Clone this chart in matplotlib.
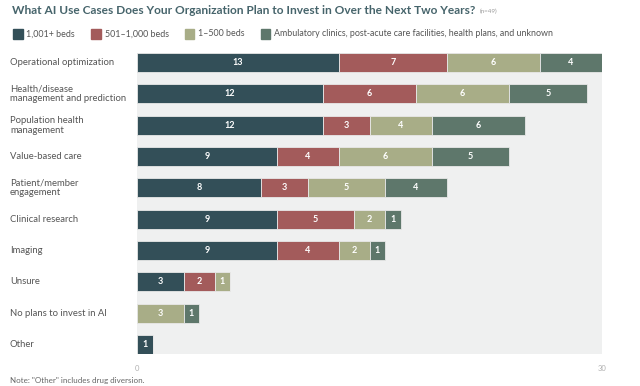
import numpy as np
import matplotlib
matplotlib.use("Agg")
import matplotlib.pyplot as plt
from matplotlib.patches import Rectangle

plt.rcParams['font.family'] = ['Lato', 'DejaVu Sans']

# data
categories = ['Operational optimization',
              'Health/disease\nmanagement and prediction',
              'Population health\nmanagement',
              'Value-based care',
              'Patient/member\nengagement',
              'Clinical research',
              'Imaging',
              'Unsure',
              'No plans to invest in AI',
              'Other']
series_names = ['1,001+ beds', '501\u20131,000 beds', '1\u2013500 beds',
                'Ambulatory clinics, post-acute care facilities, health plans, and unknown']
beds_1001 = [13, 12, 12, 9, 8, 9, 9, 3, 0, 1]
beds_501 = [7, 6, 3, 4, 3, 5, 4, 2, 0, 0]
beds_1 = [6, 6, 4, 6, 5, 2, 2, 1, 3, 0]
ambulatory = [4, 5, 6, 5, 4, 1, 1, 0, 1, 0]
colors = ['#334f58', '#a35b5b', '#a8ad87', '#5e776b']

fig = plt.figure(figsize=(6.4, 3.86), dpi=100)
ax = fig.add_axes([0.2141, 0.0829, 0.7266, 0.7798])
ax.set_facecolor('#eff0f0')

y = np.arange(len(categories))
left = np.zeros(len(categories))
for vals, c in zip([beds_1001, beds_501, beds_1, ambulatory], colors):
    vals = np.array(vals)
    ax.barh(y, vals, left=left, height=0.6, color=c, edgecolor='#e8e8e8', linewidth=0.6)
    for yi, l, v in zip(y, left, vals):
        if v > 0:
            ax.text(l + v / 2, yi, str(v), ha='center', va='center', color='white',
                    fontsize=6.5, fontweight='bold')
    left += vals

ax.set_xlim(0, 30)
ax.set_ylim(len(categories) - 0.7, -0.3)
ax.set_xticks([0, 30])
ax.set_xticklabels(['0', '30'], color='#b0b0b0', fontsize=5.5)
ax.tick_params(axis='x', length=0, pad=8)
ax.set_yticks([])
for s in ax.spines.values():
    s.set_visible(False)

# row labels, left aligned
for yi, cat in zip(y, categories):
    ax.annotate(cat, xy=(0, yi), xycoords=('figure fraction', 'data'),
                xytext=(10, 0), textcoords='offset pixels',
                ha='left', va='center', fontsize=6.8, color='#555555', linespacing=1.15)

# title
t = fig.text(12 / 640, 1 - 11 / 386, 'What AI Use Cases Does Your Organization Plan to Invest in Over the Next Two Years?',
             fontsize=8.6, fontweight='bold', color='#46646b', va='center', ha='left')
fig.canvas.draw()
r = fig.canvas.get_renderer()
bb = t.get_window_extent(r)
fig.text((bb.x1 + 4) / 640, 1 - 11.5 / 386, '(n=49)', fontsize=4.5, color='#999999', va='center', ha='left')

# legend
x = 13
ly = 386 - 34
for name, c in zip(series_names, colors):
    fig.patches.append(Rectangle((x / 640, (ly - 4.5) / 386), 9.5 / 640, 9.5 / 386,
                                 transform=fig.transFigure, color=c))
    tx = fig.text((x + 13.5) / 640, ly / 386, name, fontsize=6.4, color='#555555', va='center', ha='left')
    fig.canvas.draw()
    x = tx.get_window_extent(r).x1 + 16

fig.text(10 / 640, 1 - 380 / 386, 'Note: "Other" includes drug diversion.', fontsize=5.8,
         color='#666666', va='center', ha='left')

fig.savefig('out.png', dpi=100)
